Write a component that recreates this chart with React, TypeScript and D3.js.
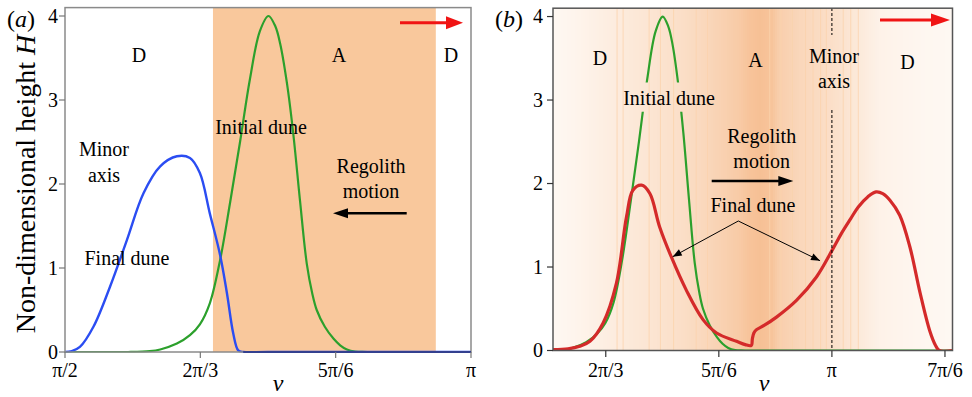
import React from "react";
import * as d3 from "d3";

// ν in degrees (π/2 = 90), H = non-dimensional height
const tickNuA = [90, 120, 150, 180];
const tickLabelsA = ["π/2", "2π/3", "5π/6", "π"];
const tickNuB = [120, 150, 180, 210];
const tickLabelsB = ["2π/3", "5π/6", "π", "7π/6"];
const tickH = [0, 1, 2, 3, 4];

// initial dune (green), same in both panels
const initialNu = [90, 104, 108.8, 111.1, 114.8, 117.7, 119.9, 122.1, 124.4, 126.6, 128.8, 131.0, 133.2, 135.1, 136.6, 137.7, 139.2, 140.6, 142.1, 143.6, 144.8, 145.8, 147.6, 149.5, 151.0, 152.5, 154.3, 157, 212];
const initialH = [0, 0, 0.01, 0.03, 0.1, 0.2, 0.33, 0.58, 1.1, 1.78, 2.5, 3.25, 3.82, 4.0, 3.88, 3.67, 3.2, 2.6, 1.8, 1.05, 0.7, 0.5, 0.3, 0.16, 0.08, 0.03, 0.005, 0, 0];

// final dune in (a) (blue)
const finalNuA = [90, 91.5, 93.3, 96.3, 100, 103.7, 107.4, 111.1, 114.8, 117.7, 119.9, 122.1, 124.4, 125.9, 127.3, 128.4, 129.5, 135, 180];
const finalHA = [0, 0.01, 0.06, 0.3, 0.78, 1.33, 1.89, 2.21, 2.33, 2.31, 2.13, 1.65, 1.15, 0.7, 0.22, 0.02, 0, 0, 0];

// final dune in (b) (red)
const finalNuB = [106, 110, 113.1, 115.8, 119.3, 122.8, 125.5, 127.2, 129.5, 131.7, 134.3, 137.4, 141.4, 145.8, 149.4, 154.7, 157, 158.6, 158.9, 159.3, 160, 162, 165.3, 170.6, 175.9, 180.3, 182.5, 185, 187, 189.5, 191.7, 193.5, 195.4, 198, 200.7, 203.4, 206, 207.5, 208.5, 212];
const finalHB = [0.01, 0.02, 0.05, 0.11, 0.33, 0.8, 1.6, 1.92, 1.98, 1.88, 1.48, 1.12, 0.72, 0.37, 0.21, 0.11, 0.07, 0.06, 0.14, 0.21, 0.25, 0.3, 0.4, 0.6, 0.88, 1.22, 1.4, 1.58, 1.72, 1.84, 1.9, 1.88, 1.8, 1.62, 1.24, 0.69, 0.23, 0.06, 0, 0];

// advance zone in (a)
const advanceA = [122.8, 172.2];

// shading intensity in (b)
const shadeNu = [106, 113, 120, 129, 139.6, 145, 150, 155.5, 158, 161, 164, 166, 171.5, 180, 187.4, 192.7, 203, 212];
const shadeLevel = [0.05, 0.1, 0.17, 0.25, 0.35, 0.42, 0.5, 0.6, 0.68, 0.72, 0.68, 0.55, 0.45, 0.35, 0.22, 0.12, 0.07, 0.05];
const stripeNu = [123, 124.6, 131.5, 134.5, 138, 144, 147, 163.5, 166.5, 169.5, 173, 175, 177, 178.5, 183, 185, 187];

const FONT = "'Liberation Serif', 'Times New Roman', serif";
const GREEN = "#2ca02c";
const BLUE = "#2b4df2";
const RED = "#d42a2a";

function ArrowHead({ x, y, dir, len, half, color }: any) {
  const p = `${x},${y} ${x - dir * len},${y - half} ${x - dir * len},${y + half}`;
  return <polygon points={p} fill={color} />;
}

export default function App() {
  const xA = d3.scaleLinear().domain([90, 180]).range([65, 471]);
  const yA = d3.scaleLinear().domain([0, 4.1]).range([352, 7.6]);
  const xB = d3.scaleLinear().domain([106, 212]).range([553, 952.5]);
  const yB = d3.scaleLinear().domain([0, 4.1]).range([350.5, 8.2]);

  const mk = (xs: any, ys: any, nu: number[], h: number[]) =>
    d3.line<number>().x((d) => xs(d)).y((d, i) => ys(h[i])).curve(d3.curveCatmullRom.alpha(0.5))(nu) || "";

  const shadeScale = d3.scaleLinear().domain(shadeNu).range(shadeLevel).clamp(true);
  const shadeColor = d3.interpolateRgb("#fffcf9", "#f3a96e");
  const cols = d3.range(553, 953, 2);

  const [fx0, fx1] = xB.range();

  return (
    <svg width={972} height={397} style={{ position: "absolute", left: 0, top: 0, background: "#fff" }} fontFamily={FONT}>
      <defs>
        <clipPath id="clipA"><rect x={65} y={7.6} width={406} height={345} /></clipPath>
        <clipPath id="clipB"><rect x={553} y={8} width={400} height={343} /></clipPath>
        <mask id="gapB">
          <rect x={553} y={0} width={400} height={352} fill="#fff" />
          <rect x={xB(127)} y={yB(3.21)} width={xB(143) - xB(127)} height={yB(2.86) - yB(3.21)} fill="#000" />
        </mask>
      </defs>

      {/* ---------- panel (a) ---------- */}
      <rect x={xA(advanceA[0])} y={yA(4.1)} width={xA(advanceA[1]) - xA(advanceA[0])} height={yA(0) - yA(4.1)} fill="#f9c89c" />
      <g clipPath="url(#clipA)" fill="none">
        <path d={mk(xA, yA, initialNu, initialH)} stroke={GREEN} strokeWidth={2.2} />
        <path d={mk(xA, yA, finalNuA, finalHA)} stroke={BLUE} strokeWidth={2.4} />
      </g>
      <rect x={65} y={yA(4.1)} width={406} height={yA(0) - yA(4.1)} fill="none" stroke="#8a8a8a" strokeWidth={1.5} />
      <line x1={xA(129.5)} x2={471} y1={yA(0)} y2={yA(0)} stroke="#33408f" strokeWidth={2} />
      {tickH.map((h) => (
        <g key={h}>
          <line x1={59} x2={65} y1={yA(h)} y2={yA(h)} stroke="#777" strokeWidth={1.2} />
          <text x={58} y={yA(h) + 6.5} fontSize={20} textAnchor="end">{h}</text>
        </g>
      ))}
      {tickNuA.map((n, i) => (
        <g key={n}>
          <line x1={xA(n)} x2={xA(n)} y1={352} y2={358} stroke="#777" strokeWidth={1.2} />
          <text x={xA(n)} y={377} fontSize={20} textAnchor="middle">{tickLabelsA[i]}</text>
        </g>
      ))}
      <text x={278} y={391} fontSize={24} fontStyle="italic" textAnchor="middle">ν</text>
      <text transform="translate(35,184) rotate(-90)" fontSize={28} textAnchor="middle">
        Non-dimensional height <tspan fontStyle="italic">H</tspan>
      </text>
      <text x={7} y={27} fontSize={24}>(<tspan fontStyle="italic">a</tspan>)</text>

      <g fontSize={20} textAnchor="middle">
        <text x={139} y={62}>D</text>
        <text x={339} y={62}>A</text>
        <text x={451} y={62}>D</text>
        <text x={261} y={134}>Initial dune</text>
        <text x={104} y={156}>Minor</text>
        <text x={104} y={182}>axis</text>
        <text x={371} y={173}>Regolith</text>
        <text x={371} y={198}>motion</text>
        <text x={127} y={265}>Final dune</text>
      </g>
      <line x1={406.7} x2={345} y1={213.3} y2={213.3} stroke="#000" strokeWidth={2.4} />
      <ArrowHead x={333} y={213.3} dir={-1} len={15} half={5} color="#000" />
      <line x1={400} x2={450} y1={22.7} y2={22.7} stroke="#f01414" strokeWidth={3} />
      <ArrowHead x={463} y={22.7} dir={1} len={17} half={6.5} color="#f01414" />

      {/* ---------- panel (b) ---------- */}
      <g clipPath="url(#clipB)">
        {cols.map((c) => (
          <rect key={c} x={c} y={8} width={2.2} height={343} fill={shadeColor(shadeScale(xB.invert(c + 1)))} />
        ))}
        {stripeNu.map((n, i) => (
          <line key={i} x1={xB(n)} x2={xB(n)} y1={8} y2={351} stroke="#fbd3ad" strokeWidth={1} opacity={0.8} />
        ))}
        <g fill="none">
          <path d={mk(xB, yB, initialNu, initialH)} stroke={GREEN} strokeWidth={2.2} mask="url(#gapB)" />
          <path d={mk(xB, yB, finalNuB, finalHB)} stroke={RED} strokeWidth={3.2} />
        </g>
      </g>
      <line x1={xB(180)} x2={xB(180)} y1={8} y2={35} stroke="#000" strokeWidth={1} strokeDasharray="3,2" />
      <line x1={xB(180)} x2={xB(180)} y1={110} y2={351} stroke="#000" strokeWidth={1} strokeDasharray="3,2" />
      <rect x={fx0} y={8.2} width={fx1 - fx0} height={yB(0) - 8.2} fill="none" stroke="#555" strokeWidth={1.5} />
      {tickH.map((h) => (
        <g key={h}>
          <line x1={547} x2={553} y1={yB(h)} y2={yB(h)} stroke="#333" strokeWidth={1.2} />
          <text x={543} y={yB(h) + 6.5} fontSize={20} textAnchor="end">{h}</text>
        </g>
      ))}
      {tickNuB.map((n, i) => (
        <g key={n}>
          <line x1={xB(n)} x2={xB(n)} y1={350.5} y2={357} stroke="#333" strokeWidth={1.2} />
          <text x={xB(n)} y={377} fontSize={20} textAnchor="middle">{tickLabelsB[i]}</text>
        </g>
      ))}
      <text x={764} y={391} fontSize={24} fontStyle="italic" textAnchor="middle">ν</text>
      <text x={495} y={27} fontSize={24}>(<tspan fontStyle="italic">b</tspan>)</text>

      <g fontSize={20} textAnchor="middle">
        <text x={600} y={65}>D</text>
        <text x={755.5} y={66.7}>A</text>
        <text x={834} y={63.3}>Minor</text>
        <text x={834} y={88.3}>axis</text>
        <text x={907.5} y={69}>D</text>
        <text x={669} y={105}>Initial dune</text>
        <text x={761.7} y={143.3}>Regolith</text>
        <text x={761.7} y={168.3}>motion</text>
        <text x={753} y={211.7}>Final dune</text>
      </g>
      <line x1={711.7} x2={780} y1={181} y2={181} stroke="#000" strokeWidth={2.4} />
      <ArrowHead x={793.3} y={181} dir={1} len={15} half={5} color="#000" />
      <line x1={880} x2={932} y1={20} y2={20} stroke="#f01414" strokeWidth={3} />
      <ArrowHead x={950} y={20} dir={1} len={19} half={6.5} color="#f01414" />

      <g stroke="#000" strokeWidth={1} fill="none">
        <polyline points={`672.7,256.7 738.3,221 820,260.7`} />
      </g>
      {(() => {
        const heads = [
          [672.7, 256.7, 738.3, 221],
          [820, 260.7, 738.3, 221],
        ];
        return heads.map(([tx, ty, sx, sy], i) => {
          const a = Math.atan2(ty - sy, tx - sx);
          const L = 9, W = 3.5;
          const bx = tx - L * Math.cos(a), by = ty - L * Math.sin(a);
          const p = `${tx},${ty} ${bx - W * Math.sin(a)},${by + W * Math.cos(a)} ${bx + W * Math.sin(a)},${by - W * Math.cos(a)}`;
          return <polygon key={i} points={p} fill="#000" />;
        });
      })()}
    </svg>
  );
}
